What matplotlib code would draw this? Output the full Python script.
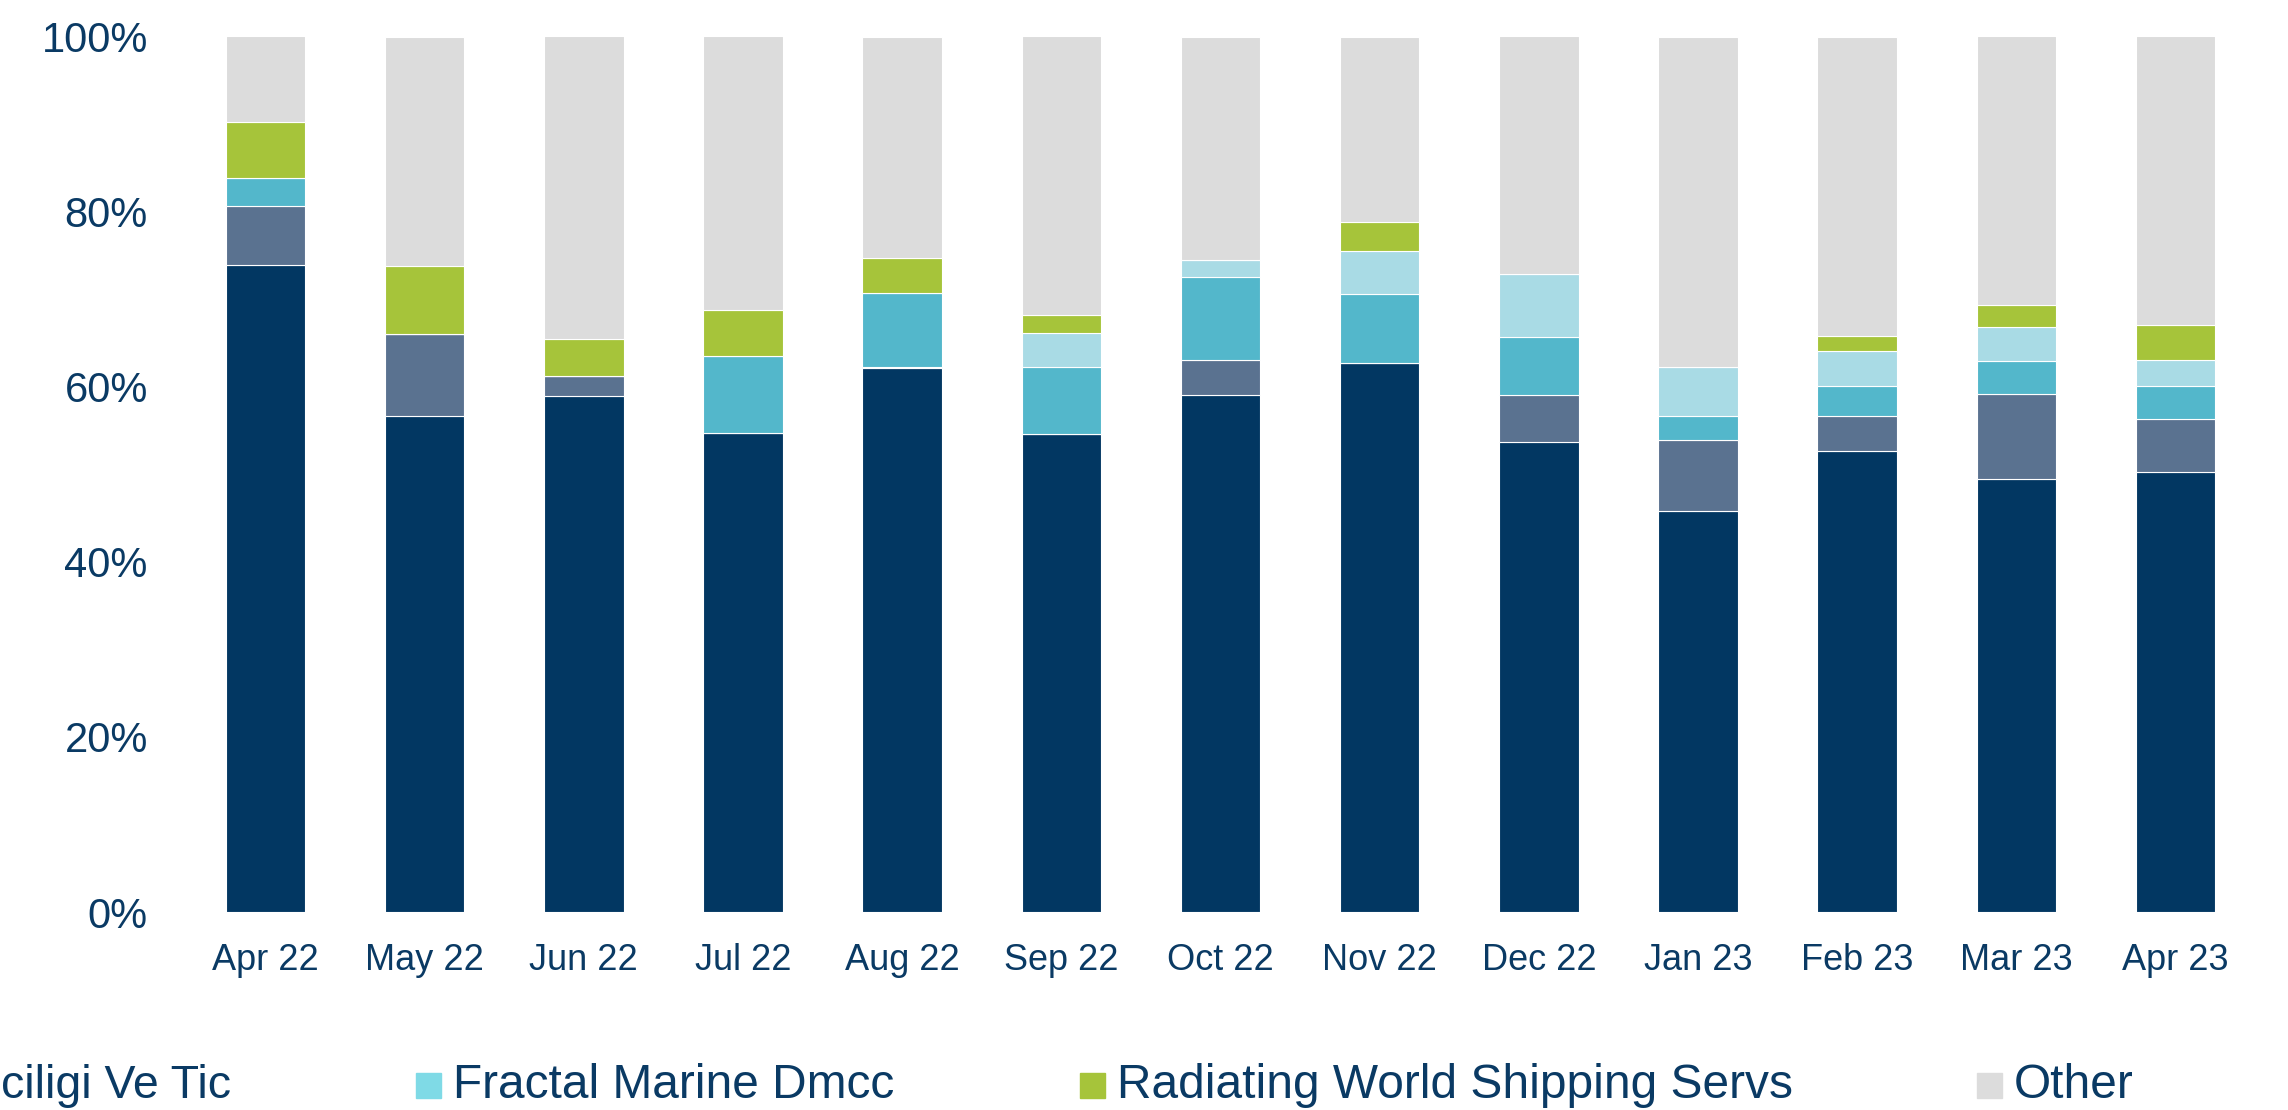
import numpy as np
import matplotlib
matplotlib.use("Agg")
import matplotlib.pyplot as plt
from matplotlib.patches import Rectangle

plt.rcParams['font.family'] = ['Liberation Sans', 'DejaVu Sans']

months = ['Apr 22', 'May 22', 'Jun 22', 'Jul 22', 'Aug 22', 'Sep 22', 'Oct 22',
          'Nov 22', 'Dec 22', 'Jan 23', 'Feb 23', 'Mar 23', 'Apr 23']

# share of each owner (%), bottom to top
navy = [73.9, 56.7, 58.9, 54.7, 62.1, 54.6, 59.0, 62.7, 53.7, 45.8, 52.6, 49.5, 50.2]
slate = [6.7, 9.3, 2.3, 0.0, 0.2, 0.0, 4.0, 0.0, 5.4, 8.1, 4.0, 9.7, 6.1]
fractal = [3.2, 0.0, 0.0, 8.8, 8.4, 7.6, 9.5, 7.9, 6.6, 2.8, 3.5, 3.7, 3.8]
light = [0.0, 0.0, 0.0, 0.0, 0.0, 3.9, 2.0, 4.9, 7.2, 5.5, 4.0, 3.9, 2.9]
radiating = [6.4, 7.8, 4.2, 5.3, 4.0, 2.1, 0.0, 3.3, 0.0, 0.0, 1.7, 2.5, 4.0]

series = [navy, slate, fractal, light, radiating]
colors = ['#023762', '#5a7290', '#53b7cb', '#a9dbe5', '#a6c43a']
other = 100 - np.sum(series, axis=0)
series.append(list(other))
colors.append('#dcdcdc')

# legend as it appears in the original (first entry is cut by the frame)
legend_names = ['ciligi Ve Tic', 'Fractal Marine Dmcc',
                'Radiating World Shipping Servs', 'Other']
legend_colors = ['#5a7290', '#7fdae6', '#a6c43a', '#dcdcdc']

txt = '#0a3a64'
W, H = 2288, 1110
fig = plt.figure(figsize=(W / 100, H / 100), dpi=100)
ax = fig.add_axes([170 / W, 1 - 912 / H, (2271 - 170) / W, (912 - 36.5) / H])

x = np.arange(len(months))
bottom = np.zeros(len(months))
for vals, c in zip(series, colors):
    ax.bar(x, vals, 0.5, bottom=bottom, color=c, edgecolor='white', linewidth=0.8)
    bottom += np.array(vals)

ax.set_xlim(-0.6, len(months) - 0.4)
ax.set_ylim(0, 100)
ax.set_yticks(range(0, 101, 20))
ax.set_yticklabels([f'{v}%' for v in range(0, 101, 20)])
ax.set_xticks(x)
ax.set_xticklabels(months)
ax.tick_params(axis='y', length=0, pad=16, labelsize=30, labelcolor=txt)
ax.tick_params(axis='x', length=0, pad=22, labelsize=26, labelcolor=txt)
for s in ax.spines.values():
    s.set_visible(False)

# legend row
base = 1 - 1098 / H
fig.text(1 / W, base, legend_names[0], ha='left', va='baseline',
         fontsize=33.5, color=txt)
marks = [416, 1080, 1977]
for name, col, mx in zip(legend_names[1:], legend_colors[1:], marks):
    fig.add_artist(Rectangle((mx / W, base), 25 / W, 25 / H,
                             transform=fig.transFigure, color=col))
    fig.text((mx + 37) / W, base, name, ha='left', va='baseline',
             fontsize=34.5, color=txt)

fig.savefig('out.png', dpi=100)
